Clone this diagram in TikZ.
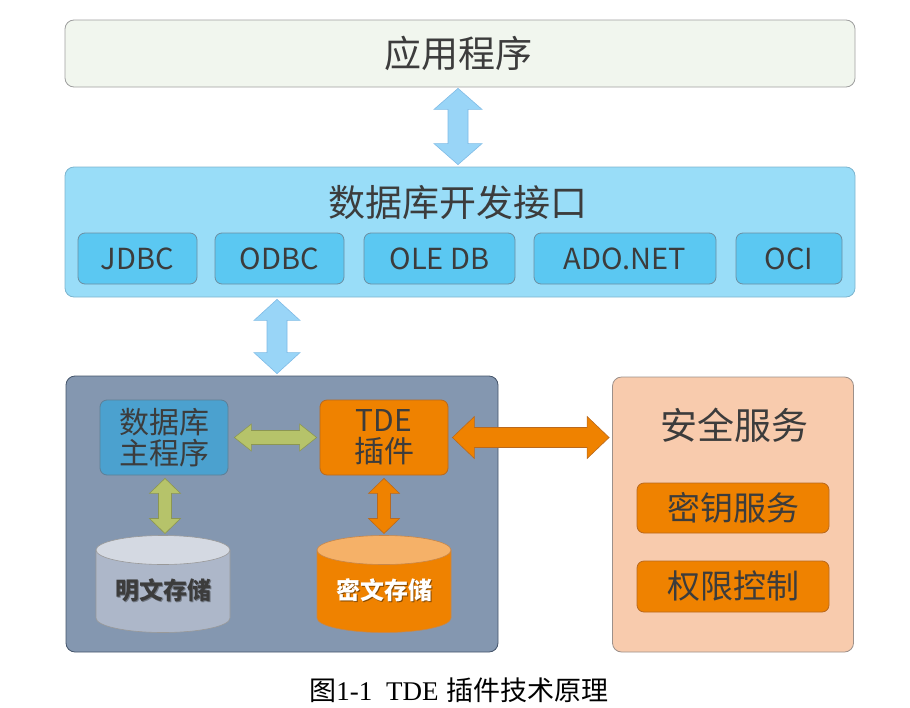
\documentclass[tikz,border=0pt]{standalone}
\usepackage{fontspec}
\setmainfont{Noto Sans CJK SC}
\newfontfamily\capserif{Liberation Serif}
\newfontfamily\capcjk{Noto Sans CJK SC}
\usetikzlibrary{calc}
\definecolor{txt}{HTML}{3C3C3C}
\definecolor{appfill}{HTML}{F1F6EE}
\definecolor{apifill}{HTML}{99DDF8}
\definecolor{apiline}{HTML}{7DB5CF}
\definecolor{subfill}{HTML}{5BC8F2}
\definecolor{subline}{HTML}{6C8FA2}
\definecolor{bluearr}{HTML}{99D5F7}
\definecolor{bluearrline}{HTML}{7FBBE6}
\definecolor{lboxfill}{HTML}{8497B0}
\definecolor{lboxline}{HTML}{44546A}
\definecolor{mainfill}{HTML}{4BA1CF}
\definecolor{mainline}{HTML}{5E7F96}
\definecolor{orange}{HTML}{EF8200}
\definecolor{orangeline}{HTML}{B9691E}
\definecolor{greenarr}{HTML}{B6C36A}
\definecolor{greenline}{HTML}{8C9652}
\definecolor{cyltop}{HTML}{D4D9E2}
\definecolor{cylbody}{HTML}{ADB7C9}
\definecolor{cyltopo}{HTML}{F5B168}
\definecolor{rboxfill}{HTML}{F8CBAD}
\definecolor{rboxline}{HTML}{9C908A}
\newcommand\vdarrow[6]{\draw[#1] let \p1=#2, \p2=#3 in
  (\x1,\y1) -- (\x1+#5,\y1-#6) -- (\x1+#4,\y1-#6) -- (\x1+#4,\y2+#6) -- (\x1+#5,\y2+#6)
  -- (\x1,\y2) -- (\x1-#5,\y2+#6) -- (\x1-#4,\y2+#6) -- (\x1-#4,\y1-#6) -- (\x1-#5,\y1-#6) -- cycle;}
\newcommand\hdarrow[6]{\draw[#1] let \p1=#2, \p2=#3 in
  (\x1,\y1) -- (\x1+#6,\y1+#5) -- (\x1+#6,\y1+#4) -- (\x2-#6,\y1+#4) -- (\x2-#6,\y1+#5)
  -- (\x2,\y1) -- (\x2-#6,\y1-#5) -- (\x2-#6,\y1-#4) -- (\x1+#6,\y1-#4) -- (\x1+#6,\y1-#5) -- cycle;}
\tikzset{
  box/.style={draw, rounded corners=7pt, inner sep=0pt, line width=0.8pt, text=txt},
  bigbox/.style={box, rounded corners=9pt},
  subbox/.style={box, fill=subfill, draw=subline, minimum height=51pt, font=\fontsize{29}{32}\selectfont},
  secbox/.style={box, fill=orange, draw=orangeline, minimum width=192pt, minimum height=50pt, font=\fontsize{33}{36}\selectfont},
  bluearrow/.style={fill=bluearr, draw=bluearrline, line width=0.6pt},
  greenarrow/.style={fill=greenarr, draw=greenline, line width=0.6pt},
  orangearrow/.style={fill=orange, draw=orangeline, line width=0.6pt},
  cylline/.style={draw=gray!80, line width=0.6pt},
}
\begin{document}
\begin{tikzpicture}[x=1pt,y=-1pt]
\useasboundingbox (0,0) rectangle (910,707);
% top
\node[bigbox, fill=appfill, draw=gray!75, minimum width=790pt, minimum height=67pt] (app) at (460,53.5) {};
\node[text=txt, font=\fontsize{37}{42}\selectfont] (apptitle) at (458,53) {应用程序};
% API layer
\node[bigbox, fill=apifill, draw=apiline, minimum width=790pt, minimum height=130pt] (api) at (460,232) {};
\node[text=txt, font=\fontsize{37}{42}\selectfont] (apititle) at (458,202) {数据库开发接口};
\node[subbox, minimum width=119pt] (jdbc) at (137.5,258.5) {JDBC};
\node[subbox, minimum width=129pt] (odbc) at (279.5,258.5) {ODBC};
\node[subbox, minimum width=151pt] (oledb) at (439.5,258.5) {OLE DB};
\node[subbox, minimum width=182pt] (ado) at (625,258.5) {ADO.NET};
\node[subbox, minimum width=106pt] (oci) at (789,258.5) {OCI};
% lower left
\node[bigbox, fill=lboxfill, draw=lboxline, minimum width=432pt, minimum height=276pt] (lbox) at (282,514) {};
\node[box, fill=mainfill, draw=mainline, minimum width=128pt, minimum height=75pt, align=center,
      font=\fontsize{30}{31}\selectfont] (main) at (164,437.5) {数据库\\主程序};
\node[box, fill=orange, draw=orangeline, minimum width=128pt, minimum height=75pt, align=center,
      font=\fontsize{30}{31}\selectfont] (tde) at (384,437.5) {TDE\\插件};
% cylinders
\path[fill=cylbody, cylline] (96,550) -- (96,618) arc[start angle=180, end angle=0, x radius=67, y radius=14.5] -- (230,550) -- cycle;
\path[fill=cyltop, cylline] (163,550) ellipse [x radius=67, y radius=14.5];
\coordinate (plaintop) at (163,535.5);
\node[text=black, opacity=0.35, font=\bfseries\fontsize{24}{28}\selectfont] (plainsh) at (164.5,591.5) {明文存储};
\node[text=txt, font=\bfseries\fontsize{24}{28}\selectfont] (plain) at (163,590) {明文存储};
\path[fill=orange, draw=orangeline!80, line width=0.6pt] (317,550) -- (317,618) arc[start angle=180, end angle=0, x radius=67, y radius=14.5] -- (451,550) -- cycle;
\path[fill=cyltopo, draw=orangeline!80, line width=0.6pt] (384,550) ellipse [x radius=67, y radius=14.5];
\coordinate (ciphertop) at (384,535.5);
\node[text=black, opacity=0.45, font=\bfseries\fontsize{24}{28}\selectfont] (ciphersh) at (385.5,591.5) {密文存储};
\node[text=white, font=\bfseries\fontsize{24}{28}\selectfont] (cipher) at (384,590) {密文存储};
% security
\node[bigbox, fill=rboxfill, draw=rboxline, minimum width=241pt, minimum height=275pt] (rbox) at (733,514.5) {};
\node[text=txt, font=\fontsize{37}{42}\selectfont] (sectitle) at (734,425) {安全服务};
\node[secbox] (key) at (733,508) {密钥服务};
\node[secbox, minimum height=51pt] (perm) at (733,586.5) {权限控制};
% arrows
\coordinate (a2x) at (277,0);
\vdarrow{bluearrow}{($(app.south)+(-2,1)$)}{($(api.north)+(0,-2)$)}{10pt}{24pt}{21pt}
\vdarrow{bluearrow}{($(api.south -| a2x)+(0,2)$)}{($(lbox.north)+(0,-2)$)}{10pt}{23pt}{21pt}
\hdarrow{greenarrow}{($(main.east)+(6,0)$)}{($(tde.west)+(-3,0)$)}{7pt}{13.5pt}{17pt}
\vdarrow{greenarrow}{($(main.south)+(1,3)$)}{($(plaintop)+(0,-2)$)}{6.5pt}{15.5pt}{15pt}
\vdarrow{orangearrow}{($(tde.south)+(0,3)$)}{($(ciphertop)+(0,-2)$)}{6.5pt}{15.5pt}{15pt}
\hdarrow{orangearrow}{($(tde.east)+(4,0)$)}{($(rbox.west)+(-3,0)$)}{10pt}{21pt}{22pt}
% caption
\node[text=black, inner sep=0pt] (caption) at (459,690)
  {{\capcjk\fontsize{27}{30}\selectfont 图}{\capserif\fontsize{27}{30}\selectfont 1-1\hspace{14pt}TDE\hspace{8pt}}{\capcjk\fontsize{27}{30}\selectfont 插件技术原理}};
\end{tikzpicture}
\end{document}
